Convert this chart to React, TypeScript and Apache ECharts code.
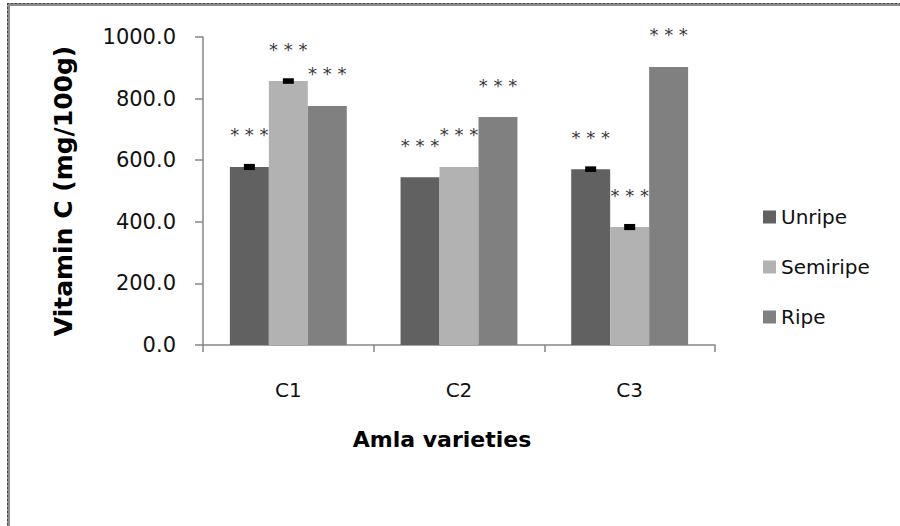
import React, { useEffect, useRef } from "react";
import * as echarts from "echarts";

const categories = ["C1", "C2", "C3"];
const seriesNames = ["Unripe", "Semiripe", "Ripe"];
const unripe = [578, 545, 571];
const semiripe = [857, 578, 383];
const ripe = [776, 740, 903];
const unripeErr = [10, 0, 9];
const semiripeErr = [9, 0, 10];
const ripeErr = [0, 0, 0];
const significance = ["* * *", "* * *", "* * *"];
const yTicks = [0, 200, 400, 600, 800, 1000];

const colors = ["#616161", "#b2b2b2", "#808080"];
const CAT_GAP = 0.315;

export default function App() {
  const ref = useRef<HTMLDivElement>(null);
  useEffect(() => {
    if (!ref.current) return;
    const chart = echarts.init(ref.current, null, { renderer: "svg" });
    const values = [unripe, semiripe, ripe];
    const errs = [unripeErr, semiripeErr, ripeErr];

    const barSeries = values.map((v, i) => ({
      name: seriesNames[i],
      type: "bar",
      data: v,
      barGap: "0%",
      barCategoryGap: CAT_GAP * 100 + "%",
      itemStyle: { color: colors[i] },
      label: {
        show: true,
        position: "top",
        distance: 23,
        formatter: () => significance[i],
        fontFamily: "DejaVu Sans",
        fontSize: 18,
        color: "#3a3a3a",
      },
    }));

    const errSeries = values.map((v, i) => ({
      type: "custom",
      name: "err" + i,
      silent: true,
      z: 5,
      data: v.map((val, k) => [k, val, errs[i][k]]),
      renderItem: (params: any, api: any) => {
        const err = api.value(2);
        if (!err) return null;
        const k = api.value(0);
        const val = api.value(1);
        const catW = api.size([1, 0])[0];
        const barW = (catW * (1 - CAT_GAP)) / 3;
        const center = api.coord([k, val]);
        const x = center[0] + (i - 1) * barW;
        const hi = api.coord([k, val + err])[1];
        const lo = api.coord([k, val - err])[1];
        return {
          type: "rect",
          shape: { x: x - 5.5, y: hi, width: 11, height: lo - hi },
          style: { fill: "#000" },
        };
      },
      encode: { x: 0, y: 1 },
    }));

    chart.setOption({
      animation: false,
      backgroundColor: "#ffffff",
      grid: { left: 203, right: 185, top: 37, bottom: 181 },
      legend: {
        data: seriesNames,
        orient: "vertical",
        left: 758,
        top: 202,
        itemWidth: 13,
        itemHeight: 13,
        itemGap: 30,
        icon: "rect",
        textStyle: { fontFamily: "DejaVu Sans", fontSize: 20, color: "#111" },
      },
      xAxis: {
        type: "category",
        data: categories,
        name: "Amla varieties",
        nameLocation: "middle",
        nameGap: 83,
        nameTextStyle: {
          fontFamily: "DejaVu Sans",
          fontWeight: "bold",
          fontSize: 22,
          color: "#000",
          padding: [0, 34, 0, 0],
        },
        axisLine: { lineStyle: { color: "#868686", width: 1.5 } },
        axisTick: { show: true, length: 7, lineStyle: { color: "#868686", width: 1.5 } },
        axisLabel: { margin: 35, fontFamily: "DejaVu Sans", fontSize: 20, color: "#111" },
      },
      yAxis: {
        type: "value",
        min: 0,
        max: 1000,
        interval: 200,
        name: "Vitamin C (mg/100g)",
        nameLocation: "middle",
        nameRotate: 90,
        nameGap: 127,
        nameTextStyle: {
          fontFamily: "DejaVu Sans",
          fontWeight: "bold",
          fontSize: 25,
          color: "#000",
        },
        splitLine: { show: false },
        axisLine: { show: true, lineStyle: { color: "#868686", width: 1.5 } },
        axisTick: { show: true, length: 8, lineStyle: { color: "#868686", width: 1.5 } },
        axisLabel: {
          margin: 27,
          fontFamily: "DejaVu Sans",
          fontSize: 21,
          color: "#111",
          formatter: (v: number) => (yTicks.includes(v) ? v.toFixed(1) : ""),
        },
      },
      graphic: [
        { type: "rect", shape: { x: 7, y: 3, width: 893, height: 3 }, style: { fill: "#8c8c8c" } },
        { type: "rect", shape: { x: 7, y: 3, width: 3, height: 523 }, style: { fill: "#8c8c8c" } },
        { type: "line", shape: { x1: 7, y1: 3.5, x2: 900, y2: 3.5 }, style: { stroke: "#444", lineWidth: 1, lineDash: [2, 2] } },
        { type: "line", shape: { x1: 7.5, y1: 3, x2: 7.5, y2: 526 }, style: { stroke: "#444", lineWidth: 1, lineDash: [2, 2] } },
      ],
      series: [...barSeries, ...errSeries],
    });
    return () => chart.dispose();
  }, []);
  return (
    <div
      ref={ref}
      style={{ position: "fixed", left: 0, top: 0, width: 900, height: 526, background: "#fff" }}
    />
  );
}
